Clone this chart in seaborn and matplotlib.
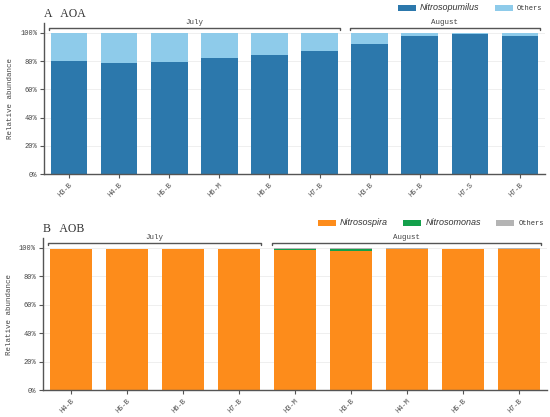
import numpy as np
import pandas as pd
import matplotlib
matplotlib.use("Agg")
import matplotlib.pyplot as plt
import seaborn as sns

# ---- data ----
aoa_samples = ["H3-B", "H4-B", "H5-B", "H6-M", "H6-B", "H7-B", "H3-B", "H5-B", "H7-S", "H7-B"]
aoa_months = ["July"] * 6 + ["August"] * 4
aoa_nitrosopumilus = [80.0, 78.5, 79.5, 82.5, 84.5, 87.5, 92.5, 98.0, 99.5, 98.0]
aoa_others = [20.0, 21.5, 20.5, 17.5, 15.5, 12.5, 7.5, 2.0, 0.5, 2.0]

aob_samples = ["H4-B", "H5-B", "H6-B", "H7-B", "H3-M", "H3-B", "H4-M", "H5-B", "H7-B"]
aob_months = ["July"] * 4 + ["August"] * 5
aob_nitrosospira = [99.6, 99.3, 99.3, 99.4, 98.3, 97.7, 99.0, 99.4, 99.2]
aob_nitrosomonas = [0.0, 0.0, 0.0, 0.0, 1.0, 1.8, 0.5, 0.0, 0.0]
aob_others = [0.0, 0.0, 0.0, 0.0, 0.5, 0.3, 0.4, 0.0, 0.7]

BLUE = "#2c78ac"
LIGHT_BLUE = "#8ecbea"
ORANGE = "#fd8c1b"
GREEN = "#13a04b"
GRAY = "#b4b4b4"

sns.set_theme(style="white")
plt.rcParams["font.family"] = ["Liberation Mono", "DejaVu Sans"]
plt.rcParams["axes.edgecolor"] = "#555555"

fig = plt.figure(figsize=(5.5, 4.17), dpi=100)
ax_top = fig.add_axes([0.080, 0.5827, 0.911, 0.362])
ax_bot = fig.add_axes([0.078, 0.0647, 0.916, 0.3645])


def stacked(ax, layers, colors, labels, width):
    """Draw stacked bars by overlaying cumulative sums (largest first)."""
    n = len(layers[0])
    cum = np.cumsum(np.array(layers), axis=0)
    pos = list(range(n))
    for k in range(len(layers) - 1, -1, -1):
        df = pd.DataFrame({"pos": pos, "val": cum[k]})
        sns.barplot(data=df, x="pos", y="val", color=colors[k], width=width,
                    saturation=1, ax=ax, label=labels[k], zorder=2,
                    edgecolor="none", linewidth=0)


def style_axis(ax, samples, months):
    n = len(samples)
    ax.set_xlim(-0.5, n - 0.5)
    ax.set_ylim(0, 107)
    ax.set_yticks([0, 20, 40, 60, 80, 100])
    ax.set_yticklabels(["0%", "20%", "40%", "60%", "80%", "100%"], fontsize=5, color="#444444")
    ax.set_xticks(range(n))
    ax.set_xticklabels(samples, rotation=45, ha="right", rotation_mode="anchor",
                       fontsize=5, color="#444444")
    ax.tick_params(axis="both", which="both", direction="out", length=3, width=0.8,
                   color="#555555", left=True, bottom=True, pad=2)
    ax.set_xlabel("")
    ax.set_ylabel("Relative abundance", fontsize=5.4, color="#444444", labelpad=4)
    ax.yaxis.grid(True, color="#ececec", lw=0.6)
    ax.set_axisbelow(True)
    sns.despine(ax=ax)
    for s in ["left", "bottom"]:
        ax.spines[s].set_linewidth(1.0)

    # month brackets
    for m in ["July", "August"]:
        idx = [i for i, mm in enumerate(months) if mm == m]
        x0, x1 = idx[0] - 0.4, idx[-1] + 0.4
        ax.plot([x0, x0, x1, x1], [102.0, 103.6, 103.6, 102.0], color="#555555",
                lw=1.0, clip_on=False, zorder=5)
        ax.text((x0 + x1) / 2, 105.2, m, ha="center", va="bottom", fontsize=5.4,
                color="#444444", clip_on=False)


stacked(ax_top, [aoa_nitrosopumilus, aoa_others], [BLUE, LIGHT_BLUE],
        ["Nitrosopumilus", "Others"], 0.73)
style_axis(ax_top, aoa_samples, aoa_months)
ax_top.text(0.0, 111, "A   AOA", ha="left", va="baseline", fontsize=8.5,
            family=["Liberation Serif"], color="#333333", clip_on=False,
            transform=ax_top.get_yaxis_transform())

stacked(ax_bot, [aob_nitrosospira, aob_nitrosomonas, aob_others], [ORANGE, GREEN, GRAY],
        ["Nitrosospira", "Nitrosomonas", "Others"], 0.75)
style_axis(ax_bot, aob_samples, aob_months)
ax_bot.text(0.0, 111, "B   AOB", ha="left", va="baseline", fontsize=8.5,
            family=["Liberation Serif"], color="#333333", clip_on=False,
            transform=ax_bot.get_yaxis_transform())


def make_legend(ax, order, y):
    handles, labels = ax.get_legend_handles_labels()
    lut = dict(zip(labels, handles))
    leg = ax.legend([lut[l] for l in order], order, loc="center right",
                    bbox_to_anchor=(1.0, y), ncol=len(order), frameon=False,
                    fontsize=5, handlelength=2.6, handleheight=0.8,
                    columnspacing=2.2, handletextpad=0.6, borderaxespad=0)
    for t in leg.get_texts():
        if t.get_text() != "Others":
            t.set_family(["Liberation Sans"])
            t.set_fontstyle("italic")
            t.set_fontsize(6.5)
        t.set_color("#333333")


make_legend(ax_top, ["Nitrosopumilus", "Others"], 1.10)
make_legend(ax_bot, ["Nitrosospira", "Nitrosomonas", "Others"], 1.10)

fig.savefig("out.png", dpi=100)
